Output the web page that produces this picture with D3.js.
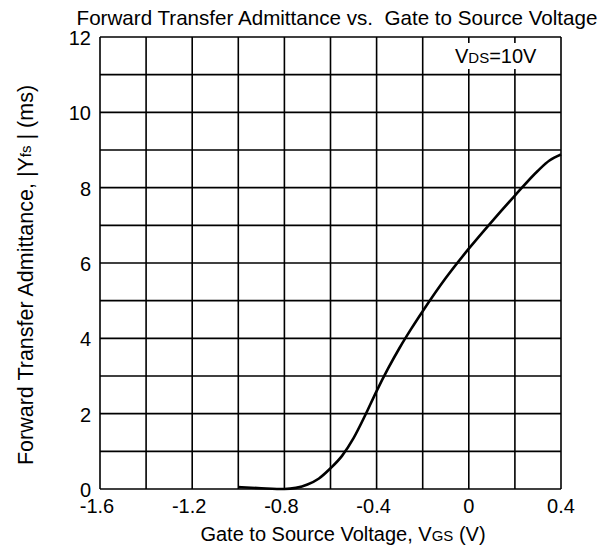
<!doctype html>
<html>
<head>
<meta charset="utf-8"/>
<title>Forward Transfer Admittance</title>
<script src="https://d3js.org/d3.v7.min.js"></script>
<style>
body { margin: 0; background: #fff; }
text { font-family: "Liberation Sans", Arial, sans-serif; fill: #000; }
</style>
</head>
<body>
<script type="text/javascript">
// curve: Vgs (V) and |Yfs| (ms)
var vgs = [-1.0, -0.9, -0.8, -0.75, -0.7, -0.65, -0.6, -0.55, -0.5, -0.45, -0.4, -0.35, -0.3, -0.25, -0.2, -0.1, 0.0, 0.1, 0.2, 0.3, 0.35, 0.4];
var yfs = [0.05, 0.02, 0.0, 0.03, 0.12, 0.28, 0.55, 0.88, 1.35, 1.95, 2.6, 3.2, 3.75, 4.25, 4.72, 5.6, 6.38, 7.1, 7.79, 8.45, 8.72, 8.88];

var xTicks = [-1.6, -1.4, -1.2, -1.0, -0.8, -0.6, -0.4, -0.2, 0, 0.2, 0.4];
var xLabels = [-1.6, -1.2, -0.8, -0.4, 0, 0.4];
var yTicks = [0, 1, 2, 3, 4, 5, 6, 7, 8, 9, 10, 11, 12];
var yLabels = [0, 2, 4, 6, 8, 10, 12];

var plotL = 100, plotR = 561, plotT = 37, plotB = 489;

var svg = d3.select("body")
    .append("svg")
    .attr("width", 600)
    .attr("height", 550);

var x = d3.scaleLinear().domain([-1.6, 0.4]).range([plotL, plotR]);
var y = d3.scaleLinear().domain([0, 12]).range([plotB, plotT]);

// grid
svg.selectAll("line.v")
    .data(xTicks)
    .enter()
  .append("line")
    .attr("class", "v")
    .attr("x1", function(d){return x(d)})
    .attr("x2", function(d){return x(d)})
    .attr("y1", plotT)
    .attr("y2", plotB)
    .attr("stroke", "black")
    .attr("stroke-width", 1.6);

svg.selectAll("line.h")
    .data(yTicks)
    .enter()
  .append("line")
    .attr("class", "h")
    .attr("x1", plotL)
    .attr("x2", plotR)
    .attr("y1", function(d){return y(d)})
    .attr("y2", function(d){return y(d)})
    .attr("stroke", "black")
    .attr("stroke-width", 1.6);

// VDS label with white box over the grid
svg.append("rect")
    .attr("x", 450).attr("y", 43)
    .attr("width", 95).attr("height", 26)
    .attr("fill", "white");

var vds = svg.append("text")
    .attr("x", 455).attr("y", 63)
    .attr("font-size", 20);
vds.append("tspan").text("V");
vds.append("tspan").attr("font-size", 15).text("DS");
vds.append("tspan").text("=10V");

// tick labels
svg.selectAll("text.xl")
    .data(xLabels)
    .enter()
  .append("text")
    .attr("class", "xl")
    .attr("x", function(d){return x(d) - (d < 0 ? 3 : 0)})
    .attr("y", 513)
    .attr("text-anchor", "middle")
    .attr("font-size", 20)
    .text(function(d){return d});

svg.selectAll("text.yl")
    .data(yLabels)
    .enter()
  .append("text")
    .attr("class", "yl")
    .attr("x", 91)
    .attr("y", function(d){return y(d) + 8})
    .attr("text-anchor", "end")
    .attr("font-size", 20)
    .text(function(d){return d});

// curve
var line = d3.line()
    .x(function(d){return x(d)})
    .y(function(d,i){return y(yfs[i])})
    .curve(d3.curveMonotoneX);

svg.append("path")
    .attr("d", line(vgs))
    .attr("fill", "none")
    .attr("stroke", "black")
    .attr("stroke-width", 2.6);

// titles
svg.append("text")
    .attr("x", 337).attr("y", 25)
    .attr("text-anchor", "middle")
    .attr("font-size", 20.6)
    .text("Forward Transfer Admittance vs.\u00a0\u00a0Gate to Source Voltage");

var xt = svg.append("text")
    .attr("x", 343).attr("y", 541)
    .attr("text-anchor", "middle")
    .attr("font-size", 20);
xt.append("tspan").text("Gate to Source Voltage, V");
xt.append("tspan").attr("font-size", 15).text("GS");
xt.append("tspan").text(" (V)");

var yt = svg.append("text")
    .attr("transform", "translate(33,275) rotate(-90)")
    .attr("text-anchor", "middle")
    .attr("font-size", 21.5);
yt.append("tspan").text("Forward Transfer Admittance, |Y");
yt.append("tspan").attr("font-size", 15).attr("dy", -2).text("fs");
yt.append("tspan").attr("dy", 2).text(" | (ms)");
</script>
</body>
</html>
